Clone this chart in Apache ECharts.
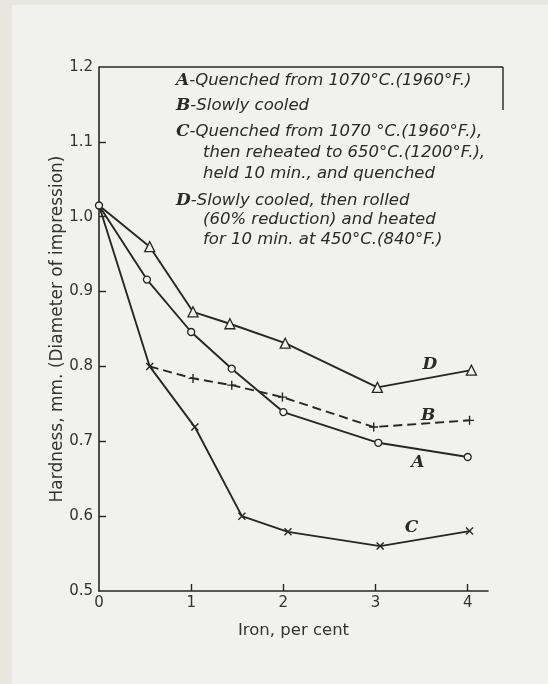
<!DOCTYPE html>
<html>
<head>
<meta charset="utf-8">
<script src="https://cdn.jsdelivr.net/npm/echarts@6/dist/echarts.min.js"></script>
<style>
  html, body { margin: 0; padding: 0; background: #f1f1f0; }
  #chart { width: 548px; height: 684px; }
</style>
</head>
<body>
<div id="chart"></div>
<script>
// Hardness (diameter of impression, mm) versus iron content (per cent)
const ironA = [0, 0.52, 1.0, 1.44, 2.0, 3.03, 4.0];
const hardA = [1.015, 0.916, 0.846, 0.797, 0.739, 0.698, 0.679];

const ironB = [0.55, 1.02, 1.44, 1.99, 2.98, 4.02];
const hardB = [0.800, 0.784, 0.775, 0.759, 0.719, 0.728];

const ironC = [0, 0.55, 1.04, 1.55, 2.05, 3.05, 4.02];
const hardC = [1.015, 0.800, 0.719, 0.600, 0.579, 0.560, 0.580];

const ironD = [0, 0.55, 1.02, 1.42, 2.02, 3.02, 4.04];
const hardD = [1.015, 0.960, 0.873, 0.857, 0.831, 0.772, 0.795];

const xTicks = [0, 1, 2, 3, 4];
const yTicks = [0.5, 0.6, 0.7, 0.8, 0.9, 1.0, 1.1, 1.2];

const legendLines = [
  { key: 'A', text: '-Quenched from 1070°C.(1960°F.)' },
  { key: 'B', text: '-Slowly cooled' },
  { key: 'C', text: '-Quenched from 1070 °C.(1960°F.),' },
  { key: '',  text: 'then reheated to 650°C.(1200°F.),' },
  { key: '',  text: 'held 10 min., and quenched' },
  { key: 'D', text: '-Slowly cooled, then rolled' },
  { key: '',  text: '(60% reduction) and heated' },
  { key: '',  text: 'for 10 min. at 450°C.(840°F.)' }
];

// curve tags placed in data coordinates
const curveTags = [
  { name: 'D', at: [3.59, 0.802] },
  { name: 'B', at: [3.57, 0.735] },
  { name: 'A', at: [3.46, 0.671] },
  { name: 'C', at: [3.39, 0.585] }
];

const INK = '#262626';
const PAPER = '#f1f1f0';

function pairs(xs, ys, hideFirst) {
  return xs.map((x, i) => {
    const item = { value: [x, ys[i]] };
    if (hideFirst && i === 0) item.symbol = 'none';
    return item;
  });
}

const lineBase = {
  type: 'line',
  showAllSymbol: true,
  animation: false,
  silent: true,
  lineStyle: { color: INK, width: 1.9 },
  itemStyle: { color: PAPER, borderColor: INK, borderWidth: 1.3 }
};

const chart = echarts.init(document.getElementById('chart'), null, { renderer: 'canvas' });

chart.setOption({
  backgroundColor: PAPER,
  animation: false,
  grid: { left: 99, top: 67, right: 60, bottom: 93 },
  xAxis: {
    type: 'value', min: 0, max: 4.22, interval: 1,
    axisLine: { show: true, onZero: false, lineStyle: { color: INK, width: 1.6 } },
    axisTick: { show: true, inside: true, length: 7, customValues: [1, 2, 3, 4], lineStyle: { color: INK, width: 1.4 } },
    axisLabel: { customValues: xTicks, color: '#333', fontSize: 15, fontFamily: 'DejaVu Sans', margin: 5 },
    splitLine: { show: false },
    name: 'Iron, per cent', nameLocation: 'middle', nameGap: 31,
    nameTextStyle: { color: '#333', fontSize: 16.5, fontFamily: 'DejaVu Sans' }
  },
  yAxis: {
    type: 'value', min: 0.5, max: 1.2, interval: 0.1,
    axisLine: { show: true, onZero: false, lineStyle: { color: INK, width: 1.6 } },
    axisTick: { show: true, inside: true, length: 7, customValues: [0.6, 0.7, 0.8, 0.9, 1.0, 1.1], lineStyle: { color: INK, width: 1.4 } },
    axisLabel: { customValues: yTicks, color: '#333', fontSize: 15, fontFamily: 'DejaVu Sans', margin: 6,
      formatter: v => Number(v).toFixed(1) },
    splitLine: { show: false },
    name: 'Hardness, mm. (Diameter of impression)', nameLocation: 'middle', nameGap: 33,
    nameMoveOverlap: false,
    nameTextStyle: { color: '#333', fontSize: 17, fontFamily: 'DejaVu Sans' }
  },
  series: [
    Object.assign({}, lineBase, {
      name: 'A', data: pairs(ironA, hardA, false),
      symbol: 'circle', symbolSize: 7, z: 3
    }),
    Object.assign({}, lineBase, {
      name: 'B', data: pairs(ironB, hardB, true),
      symbol: 'path://M5,0L5,10M0,5L10,5', symbolSize: 9,
      lineStyle: { color: INK, width: 1.9, type: [9, 5] },
      itemStyle: { color: 'none', borderColor: INK, borderWidth: 1.4 }
    }),
    Object.assign({}, lineBase, {
      name: 'C', data: pairs(ironC, hardC, true),
      symbol: 'path://M0,0L10,10M10,0L0,10', symbolSize: 7,
      itemStyle: { color: 'none', borderColor: INK, borderWidth: 1.4 }
    }),
    Object.assign({}, lineBase, {
      name: 'D', data: pairs(ironD, hardD, true),
      symbol: 'triangle', symbolSize: 10, z: 3
    })
  ]
});

// frame line along the top of the plot, boxing the key text on the right
const topLeft = chart.convertToPixel({ gridIndex: 0 }, [0, 1.2]);
const graphics = [
  { type: 'rect', shape: { x: 0, y: 0, width: 12, height: 684 }, style: { fill: '#e8e6e0' }, silent: true },
  { type: 'rect', shape: { x: 0, y: 0, width: 548, height: 5 }, style: { fill: '#e8e6e0' }, silent: true },
  { type: 'line', shape: { x1: topLeft[0], y1: topLeft[1], x2: 503, y2: topLeft[1] },
    style: { stroke: INK, lineWidth: 1.6 }, silent: true },
  { type: 'line', shape: { x1: 503, y1: topLeft[1], x2: 503, y2: 110 },
    style: { stroke: INK, lineWidth: 1.4 }, silent: true }
];

const lineY = [81, 106, 132, 153, 174, 201, 220, 240];
legendLines.forEach((ln, i) => {
  graphics.push({
    type: 'text', silent: true,
    x: ln.key ? 176 : 203, y: lineY[i],
    style: {
      text: ln.key ? '{k|' + ln.key + '}{t|' + ln.text + '}' : '{t|' + ln.text + '}',
      verticalAlign: 'middle',
      rich: {
        k: { fontFamily: 'DejaVu Serif', fontStyle: 'italic', fontWeight: 'bold', fontSize: 17, fill: '#2a2a2a' },
        t: { fontFamily: 'DejaVu Sans', fontStyle: 'italic', fontSize: 16.5, fill: '#2a2a2a' }
      }
    }
  });
});

curveTags.forEach(tag => {
  const p = chart.convertToPixel({ gridIndex: 0 }, tag.at);
  graphics.push({
    type: 'text', silent: true, x: p[0], y: p[1],
    style: {
      text: tag.name, align: 'center', verticalAlign: 'middle',
      fontFamily: 'DejaVu Serif', fontStyle: 'italic', fontWeight: 'bold', fontSize: 17, fill: '#2a2a2a'
    }
  });
});

chart.setOption({ graphic: graphics });
</script>
</body>
</html>
